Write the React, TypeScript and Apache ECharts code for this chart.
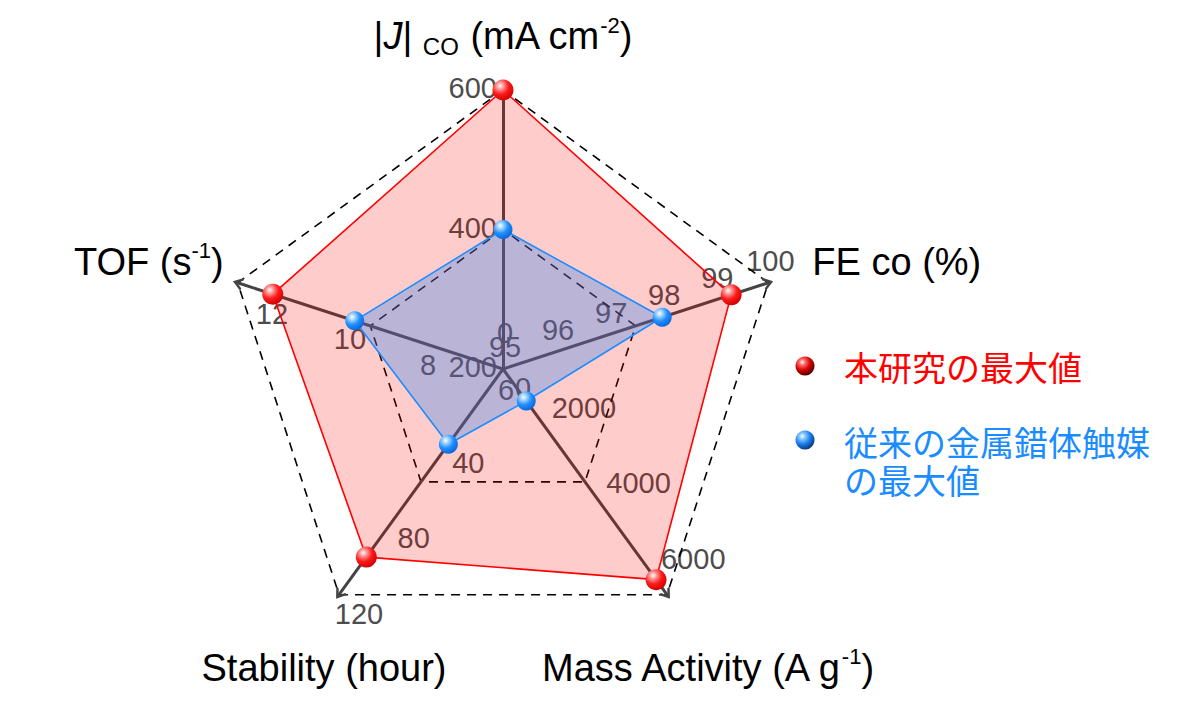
import React, { useEffect, useRef } from 'react';
import * as echarts from 'echarts';

// ---- data ----
// axes, counter-clockwise from the top
const indicatorNames = ['|J| CO (mA cm-2)', 'TOF (s-1)', 'Stability (hour)', 'Mass Activity (A g-1)', 'FE co (%)'];
const axisMin = [200, 6, 0, 0, 95];
const axisMax = [600, 12.8, 120, 6000, 100];
const thisWork = [600, 11.9, 100, 5600, 99.3];
const conventional = [400, 9.8, 40, 850, 98];
const jTicks = [200, 400, 600];
const tofTicks = [6, 8, 10, 12];
const stabilityTicks = [0, 40, 80, 120];
const massTicks = [0, 2000, 4000, 6000];
const feTicks = [95, 96, 97, 98, 99, 100];
const legendNames = ['本研究の最大値', '従来の金属錯体触媒\nの最大値'];

// ---- layout / style ----
const CX = 503;
const CY = 369;
const R = 279;
const LATIN = '"Liberation Sans", Arial, Helvetica, sans-serif';
const CJK = '"Noto Sans CJK JP", "Noto Sans CJK SC", sans-serif';

const tickGroups = [jTicks, tofTicks, stabilityTicks, massTicks, feTicks];
const tickPlacement = [
  { align: 'right', dx: -6, dy: -2 },
  { align: 'center', dx: 3, dy: 21 },
  { align: 'center', dx: 20, dy: 19 },
  { align: 'left', dx: -6, dy: -36 },
  { align: 'center', dx: 2, dy: -22 },
];
const nameRich = [
  '|{i|J}| {sub|CO} (mA cm{sup|-2})',
  'TOF (s{sup|-1})',
  'Stability (hour)',
  'Mass Activity (A g{sup|-1})',
  'FE co (%)',
];
const namePlacement = [
  { align: 'center', dx: 0, dy: -54 },
  { align: 'right', dx: -14, dy: -21 },
  { align: 'center', dx: -15, dy: 73 },
  { align: 'center', dx: 40, dy: 73 },
  { align: 'left', dx: 44, dy: -21 },
];

function toPoint(i: number, v: number) {
  const a = ((90 + i * 72) * Math.PI) / 180;
  const r = (R * (v - axisMin[i])) / (axisMax[i] - axisMin[i]);
  return [CX + r * Math.cos(a), CY - r * Math.sin(a)];
}

const ball = (hi: string, mid: string, dark: string) => ({
  type: 'radial',
  x: 0.36,
  y: 0.3,
  r: 0.75,
  colorStops: [
    { offset: 0, color: '#ffffff' },
    { offset: 0.2, color: hi },
    { offset: 0.55, color: mid },
    { offset: 1, color: dark },
  ],
});

const redBall = ball('#ffa0a0', '#ff1a1a', '#c80000');
const blueBall = ball('#a8d8ff', '#1f8fff', '#0a62d6');
const redLegendBall = ball('#ff7070', '#d80000', '#4a0000');
const blueLegendBall = ball('#8ccaff', '#1a80f0', '#06306e');

const richStyles = {
  i: { fontStyle: 'italic', fontSize: 38, fontFamily: LATIN, fill: '#000' },
  sub: { fontSize: 24, lineHeight: 18, verticalAlign: 'bottom', fontFamily: LATIN, fill: '#000' },
  sup: { fontSize: 22, lineHeight: 34, verticalAlign: 'top', fontFamily: LATIN, fill: '#000' },
};

export default function App() {
  const ref = useRef<HTMLDivElement>(null);

  useEffect(() => {
    if (!ref.current) return;
    const chart = echarts.init(ref.current, null, { renderer: 'svg' });

    const graphic: any[] = [];
    // tick labels (under the filled areas)
    tickGroups.forEach((ticks, i) => {
      const p = tickPlacement[i];
      ticks.forEach((t) => {
        const [x, y] = toPoint(i, t);
        graphic.push({
          type: 'text',
          z: 0,
          x: x + p.dx,
          y: y + p.dy,
          style: {
            text: String(t),
            fontSize: 29,
            fontFamily: LATIN,
            fill: '#4d4d4d',
            align: p.align,
            verticalAlign: 'middle',
          },
        });
      });
    });
    // axis names
    nameRich.forEach((txt, i) => {
      const p = namePlacement[i];
      const [x, y] = toPoint(i, axisMax[i]);
      graphic.push({
        type: 'text',
        z: 10,
        x: x + p.dx,
        y: y + p.dy,
        style: {
          text: txt,
          fontSize: 38,
          lineHeight: 44,
          fontFamily: LATIN,
          fill: '#000',
          align: p.align,
          verticalAlign: 'middle',
          rich: richStyles,
        },
      });
    });
    // legend
    const blueLines = legendNames[1].split('\n');
    graphic.push(
      { type: 'circle', z: 10, shape: { cx: 805, cy: 366, r: 9.5 }, style: { fill: redLegendBall } },
      { type: 'circle', z: 10, shape: { cx: 805, cy: 440, r: 9.5 }, style: { fill: blueLegendBall } },
      {
        type: 'text',
        z: 10,
        x: 844,
        y: 366,
        style: { text: legendNames[0], fontSize: 34, fontFamily: CJK, fill: '#ff0000', verticalAlign: 'middle' },
      },
      ...blueLines.map((line, k) => ({
        type: 'text',
        z: 10,
        x: 844,
        y: 441 + k * 38,
        style: { text: line, fontSize: 34, fontFamily: CJK, fill: '#1a8cff', verticalAlign: 'middle' },
      }))
    );

    chart.setOption({
      animation: false,
      backgroundColor: '#ffffff',
      radar: {
        center: [CX, CY],
        radius: R,
        startAngle: 90,
        shape: 'polygon',
        splitNumber: 2,
        indicator: indicatorNames.map((n, i) => ({ name: n, min: axisMin[i], max: axisMax[i] })),
        axisName: { show: false },
        axisLine: {
          show: true,
          symbol: ['none', 'path://M0,10 L7,0 L14,10 L11,10 L7,4.3 L3,10 Z'],
          symbolSize: [14, 10],
          lineStyle: { color: '#444444', width: 3 },
        },
        splitLine: { show: true, lineStyle: { color: '#000000', width: 1.6, type: [9, 7] } },
        splitArea: { show: false },
        axisTick: { show: false },
        axisLabel: { show: false },
      },
      series: [
        {
          type: 'radar',
          z: 2,
          data: [
            {
              name: legendNames[0],
              value: thisWork,
              symbol: 'circle',
              symbolSize: 21,
              itemStyle: { color: redBall },
              lineStyle: { color: '#ff0000', width: 1.6 },
              areaStyle: { color: 'rgba(255,0,0,0.2)', opacity: 1 },
            },
            {
              name: legendNames[1],
              value: conventional,
              symbol: 'circle',
              symbolSize: 19,
              itemStyle: { color: blueBall },
              lineStyle: { color: '#1e8fff', width: 1.6 },
              areaStyle: { color: 'rgba(40,135,240,0.32)', opacity: 1 },
            },
          ],
        },
      ],
      graphic,
    });

    return () => chart.dispose();
  }, []);

  return (
    <div
      ref={ref}
      style={{ position: 'fixed', left: 0, top: 0, width: 1178, height: 714, background: '#fff' }}
    />
  );
}
